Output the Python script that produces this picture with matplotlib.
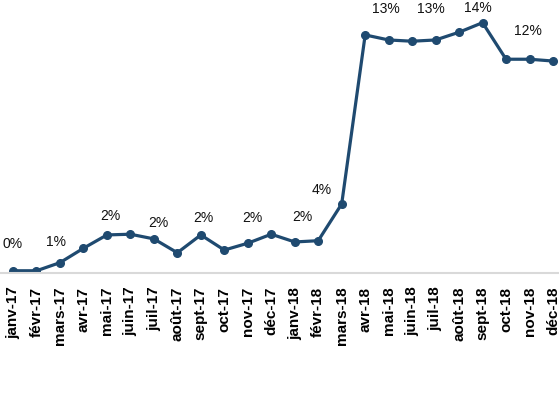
import matplotlib
matplotlib.use("Agg")
import matplotlib.pyplot as plt

# monthly share (%)
months = [
    "janv-17", "févr-17", "mars-17", "avr-17", "mai-17", "juin-17",
    "juil-17", "août-17", "sept-17", "oct-17", "nov-17", "déc-17",
    "janv-18", "févr-18", "mars-18", "avr-18", "mai-18", "juin-18",
    "juil-18", "août-18", "sept-18", "oct-18", "nov-18", "déc-18",
]
values = [
    0.29, 0.29, 0.74, 1.54, 2.28, 2.32,
    2.06, 1.29, 2.28, 1.44, 1.82, 2.32,
    1.89, 1.96, 4.00, 13.39, 13.11, 13.04,
    13.11, 13.54, 14.07, 12.04, 12.04, 11.94,
]
# every other month carries a data label
labelled = list(range(0, 24, 2))

# label offsets (dx, dy) in pixels, as placed in the original
label_offsets = [
    (0, 27), (-4, 21), (3, 19), (5, 16), (3, 17), (5, 25),
    (8, 25), (-20, 14), (-3, 31), (-5, 31), (-5, 15), (-2, 28),
]

LINE = "#1f4a70"

fig = plt.figure(figsize=(5.59, 3.93), dpi=100)
ax = fig.add_axes([0, 0.306, 1, 0.694])

x = list(range(len(months)))
ax.plot(x, values, color=LINE, linewidth=2.3, marker="o", markersize=5.5,
        solid_capstyle="round")

for i, (dx, dy) in zip(labelled, label_offsets):
    ax.annotate(f"{values[i]:.0f}%", (i, values[i]),
                xytext=(dx * 0.72, dy * 0.72), textcoords="offset points",
                ha="center", va="center", fontsize=10,
                family="Liberation Sans", color="#111111")

ax.set_xlim(-0.554, 23.256)
ax.set_ylim(0.18, 15.33)
ax.set_xticks(x)
ax.set_xticklabels(months, rotation=90, fontsize=11, fontweight="bold",
                   family="Liberation Sans", va="top", ha="center")
ax.tick_params(axis="x", length=0, pad=10)
ax.set_yticks([])

for side in ["top", "right", "left"]:
    ax.spines[side].set_visible(False)
ax.spines["bottom"].set_color("#d9d9d9")
ax.spines["bottom"].set_linewidth(1.5)

fig.savefig("out.png", dpi=100)
